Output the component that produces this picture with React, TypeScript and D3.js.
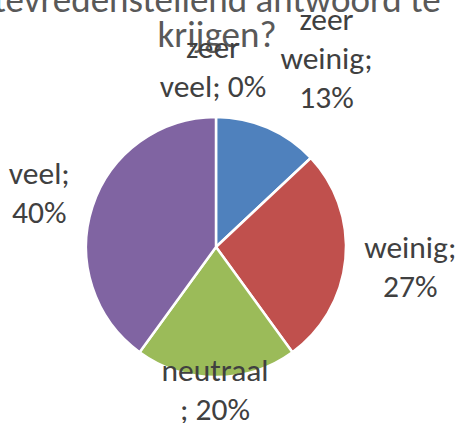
import { useRef, useEffect } from "react";
import * as d3 from "d3";

const categories = ["zeer veel", "zeer weinig", "weinig", "neutraal", "veel"];
const percents = [0, 13, 27, 20, 40];
// label text as wrapped in the picture
const labelLines = [
  ["zeer", "veel; 0%"],
  ["zeer", "weinig;", "13%"],
  ["weinig;", "27%"],
  ["neutraal", "; 20%"],
  ["veel;", "40%"],
];
const titleLines = ["tevredenstellend antwoord te", "krijgen?"];

const COLORS = ["#4F81BD", "#4F81BD", "#C0504D", "#9BBB59", "#8064A2"];
const TEXT = "#404040";
const TITLE = "#595959";
const FONT = "Carlito, Calibri, 'Liberation Sans', Arial, sans-serif";

// small nudges from the outside-end anchor, per category
const NUDGE: Record<string, [number, number]> = {
  "zeer veel": [-3, -10],
  "zeer weinig": [43, -32],
  weinig: [25, 4],
  neutraal: [-1, -27],
  veel: [-15, -1],
};

export default function App() {
  const svgRef = useRef<SVGSVGElement>(null);
  const width = 459;
  const height = 423;

  useEffect(() => {
    if (!svgRef.current) return;
    const svg = d3.select(svgRef.current);
    svg.selectAll("*").remove();

    const cx = 216;
    const cy = 247;
    const r = 130;

    // Title (top of it is cut off in the source)
    svg
      .append("g")
      .selectAll("text")
      .data(titleLines)
      .enter()
      .append("text")
      .attr("x", cx + 1)
      .attr("y", (_, i) => 12 + i * 35)
      .attr("text-anchor", "middle")
      .attr("fill", TITLE)
      .attr("font-family", FONT)
      .attr("font-size", "37px")
      .text((d) => d);

    const pie = d3
      .pie<number>()
      .sort(null)
      .value((d) => d)
      .startAngle(0)
      .endAngle(2 * Math.PI);
    const arcs = pie(percents);

    const arc = d3.arc<d3.PieArcDatum<number>>().innerRadius(0).outerRadius(r);

    const g = svg.append("g").attr("transform", `translate(${cx},${cy})`);

    g.selectAll("path")
      .data(arcs)
      .enter()
      .append("path")
      .attr("d", arc)
      .attr("fill", (_, i) => COLORS[i])
      .attr("stroke", "#fff")
      .attr("stroke-width", 2.5)
      .attr("stroke-linejoin", "round");

    // Labels
    const fs = 31.5;
    const lh = 39;
    const labelR = r + 40;
    arcs.forEach((a, i) => {
      const mid = (a.startAngle + a.endAngle) / 2;
      const [nx, ny] = NUDGE[categories[i]];
      const lx = Math.sin(mid) * labelR + nx;
      const ly = -Math.cos(mid) * labelR + ny;
      const lines = labelLines[i];
      const first = ly - ((lines.length - 1) * lh) / 2 + 10.5;
      const t = g
        .append("text")
        .attr("text-anchor", "middle")
        .attr("fill", TEXT)
        .attr("font-family", FONT)
        .attr("font-size", `${fs}px`);
      lines.forEach((line, j) => {
        t.append("tspan")
          .attr("x", lx)
          .attr("y", first + j * lh)
          .text(line);
      });
    });
  }, []);

  return (
    <svg
      ref={svgRef}
      width={width}
      height={height}
      viewBox={`0 0 ${width} ${height}`}
      style={{ position: "absolute", left: 0, top: 0, background: "#fff" }}
    />
  );
}
